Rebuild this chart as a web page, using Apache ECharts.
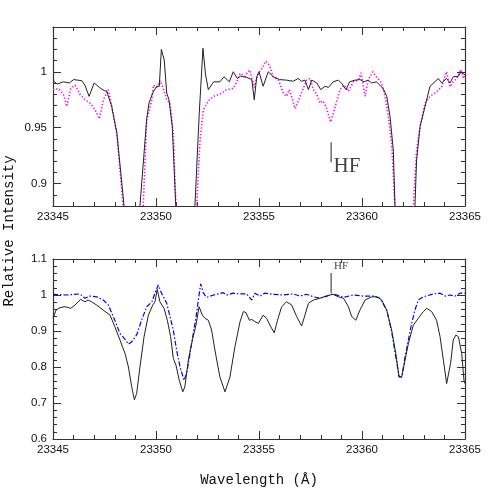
<!DOCTYPE html>
<html><head><meta charset="utf-8">
<script src="https://cdn.jsdelivr.net/npm/echarts@6/dist/echarts.min.js"></script>
<style>html,body{margin:0;padding:0;background:#fff}#c{width:491px;height:491px}</style>
</head><body><div id="c"></div>
<script>
// ---- Data ----
const xTicks = [23345, 23350, 23355, 23360, 23365];
const topYLabels = [0.9, 0.95, 1];
const bottomYLabels = [0.6, 0.7, 0.8, 0.9, 1, 1.1];

// Top panel: observed spectrum (black)
const topObsWave = [23345.0,23345.2,23345.5,23345.8,23346.0,23346.4,23346.55,23346.75,23347.0,23347.25,23347.5,23347.6,23347.85,23348.1,23348.45,23348.85,23349.22,23349.55,23349.66,23349.84,23350.03,23350.16,23350.26,23350.4,23350.52,23350.63,23350.79,23350.96,23351.4,23351.89,23352.1,23352.28,23352.4,23352.54,23352.8,23353.1,23353.3,23353.56,23353.75,23353.95,23354.1,23354.4,23354.65,23354.77,23354.89,23355.0,23355.2,23355.45,23355.7,23356.0,23356.34,23356.66,23356.9,23357.07,23357.23,23357.4,23357.56,23357.8,23358.0,23358.2,23358.37,23358.6,23358.85,23359.0,23359.22,23359.4,23359.66,23359.9,23360.1,23360.3,23360.46,23360.7,23360.87,23361.03,23361.2,23361.36,23361.52,23361.6,23362.1,23362.57,23362.65,23362.82,23363.06,23363.3,23363.54,23363.7,23363.87,23364.1,23364.27,23364.43,23364.68,23364.8,23365.0];
const topObsFlux = [0.992,0.989,0.991,0.990,0.993,0.992,0.988,0.978,0.990,0.986,0.983,0.983,0.969,0.945,0.880,0.75,0.880,0.958,0.972,0.981,0.987,0.987,1.020,1.0105,0.981,0.975,0.951,0.880,0.75,0.880,0.963,1.021,0.998,0.984,0.991,0.991,0.9955,0.991,1.000,0.994,0.996,0.995,0.993,0.975,0.9955,1.000,0.987,1.000,0.9955,0.993,0.9925,0.9915,0.994,0.9915,0.9925,0.984,0.9925,0.990,0.984,0.987,0.986,0.991,0.9925,0.990,0.984,0.991,0.9925,0.993,0.991,0.9925,0.990,0.991,0.988,0.985,0.978,0.960,0.930,0.880,0.75,0.880,0.921,0.951,0.969,0.987,0.991,0.994,0.990,0.994,0.990,0.9955,0.996,1.000,0.997];

// Top panel: comparison spectrum (magenta dotted)
const topCmpWave = [23345.0,23345.26,23345.5,23345.67,23345.86,23346.07,23346.3,23346.55,23346.8,23347.04,23347.25,23347.45,23347.69,23347.85,23348.1,23348.4,23348.9,23349.38,23349.55,23349.8,23349.87,23350.03,23350.2,23350.36,23350.52,23350.68,23350.84,23350.97,23351.45,23351.97,23352.14,23352.3,23352.54,23352.8,23353.1,23353.43,23353.75,23353.9,23354.08,23354.32,23354.45,23354.56,23354.77,23354.96,23355.2,23355.33,23355.5,23355.7,23355.95,23356.18,23356.34,23356.47,23356.58,23356.75,23356.99,23357.15,23357.31,23357.48,23357.64,23357.8,23357.96,23358.1,23358.25,23358.48,23358.7,23358.93,23359.13,23359.34,23359.58,23359.83,23359.95,23360.15,23360.3,23360.52,23360.7,23360.95,23361.12,23361.28,23361.44,23361.6,23362.05,23362.49,23362.65,23362.82,23363.06,23363.3,23363.62,23363.87,23364.1,23364.27,23364.43,23364.6,23364.8,23364.92,23365.0];
const topCmpFlux = [0.984,0.985,0.980,0.969,0.985,0.988,0.980,0.975,0.972,0.966,0.958,0.975,0.984,0.969,0.945,0.880,0.75,0.880,0.957,0.975,0.988,0.986,0.992,0.985,0.975,0.972,0.945,0.880,0.75,0.880,0.939,0.966,0.974,0.978,0.980,0.984,0.985,0.990,0.9985,0.996,1.000,1.0015,0.986,0.9985,1.0045,1.0095,1.006,0.995,0.9925,0.981,0.978,0.984,0.978,0.967,0.978,0.985,0.9925,0.994,0.984,0.980,0.972,0.974,0.969,0.955,0.969,0.984,0.988,0.9825,0.991,0.9925,0.999,0.978,0.9925,1.000,0.9955,0.990,0.978,0.960,0.936,0.880,0.75,0.880,0.930,0.951,0.972,0.978,0.982,0.9866,1.000,0.9866,0.991,0.994,1.002,0.994,0.998];

// Bottom panel: black spectrum
const botObsWave = [23345.0,23345.15,23345.34,23345.58,23345.86,23346.07,23346.34,23346.55,23346.7,23346.88,23347.12,23347.44,23347.77,23348.0,23348.25,23348.5,23348.66,23348.82,23348.95,23349.06,23349.22,23349.42,23349.63,23349.84,23349.95,23350.06,23350.19,23350.39,23350.55,23350.71,23350.84,23350.97,23351.13,23351.3,23351.4,23351.57,23351.78,23351.94,23352.09,23352.25,23352.38,23352.54,23352.7,23352.86,23353.1,23353.35,23353.59,23353.83,23354.08,23354.24,23354.37,23354.53,23354.65,23354.8,23354.97,23355.2,23355.37,23355.57,23355.74,23355.9,23356.1,23356.34,23356.59,23356.83,23357.07,23357.23,23357.4,23357.64,23357.96,23358.25,23358.58,23358.85,23359.1,23359.34,23359.5,23359.7,23359.9,23360.15,23360.47,23360.74,23360.96,23361.2,23361.44,23361.64,23361.8,23361.93,23362.09,23362.25,23362.49,23362.73,23362.98,23363.14,23363.38,23363.62,23363.79,23363.95,23364.11,23364.19,23364.3,23364.43,23364.56,23364.68,23364.84,23364.95,23365.0];
const botObsFlux = [0.935,0.958,0.965,0.9675,0.963,0.972,0.988,0.981,0.986,0.981,0.972,0.958,0.944,0.912,0.875,0.837,0.800,0.745,0.709,0.726,0.800,0.884,0.944,0.972,0.981,1.016,0.981,0.963,0.930,0.884,0.824,0.805,0.763,0.731,0.745,0.819,0.879,0.916,0.9675,0.944,0.935,0.930,0.9025,0.847,0.7725,0.731,0.7725,0.856,0.926,0.954,0.951,0.930,0.932,0.926,0.921,0.944,0.935,0.912,0.895,0.930,0.9675,0.981,0.972,0.940,0.914,0.944,0.977,0.986,0.991,0.997,1.002,0.995,0.991,0.9675,0.940,0.930,0.958,0.986,0.995,0.995,0.986,0.958,0.9025,0.8375,0.7725,0.7725,0.819,0.865,0.916,0.935,0.954,0.963,0.954,0.930,0.884,0.819,0.754,0.754,0.810,0.875,0.889,0.884,0.8375,0.763,0.754];

// Bottom panel: blue dash-dot spectrum
const botModWave = [23345.0,23345.65,23346.3,23346.55,23346.8,23347.12,23347.44,23347.69,23348.0,23348.25,23348.5,23348.66,23348.82,23349.06,23349.3,23349.55,23349.8,23349.95,23350.11,23350.27,23350.52,23350.68,23350.84,23351.0,23351.17,23351.36,23351.49,23351.65,23351.81,23351.97,23352.09,23352.17,23352.3,23352.46,23352.8,23353.27,23353.43,23353.75,23354.08,23354.4,23354.65,23354.8,23355.05,23355.28,23355.7,23356.18,23356.66,23357.0,23357.31,23357.64,23357.96,23358.3,23358.6,23359.1,23359.58,23360.07,23360.55,23360.87,23361.2,23361.44,23361.64,23361.8,23361.93,23362.09,23362.25,23362.41,23362.57,23362.73,23362.98,23363.46,23363.79,23364.04,23364.27,23364.52,23364.76,23365.0];
const botModFlux = [1.002,1.000,1.003,0.991,0.997,0.995,0.986,0.972,0.930,0.893,0.877,0.8635,0.870,0.889,0.930,0.9675,0.981,1.005,1.028,1.005,0.977,0.940,0.9025,0.847,0.800,0.763,0.782,0.8375,0.893,0.949,1.000,1.031,1.005,0.9935,1.000,1.0065,1.000,1.005,1.003,1.003,0.986,1.005,0.997,1.005,1.002,1.000,1.003,0.997,1.002,0.995,0.991,0.997,1.003,0.9935,1.000,0.997,0.997,0.991,0.958,0.898,0.828,0.7725,0.7725,0.828,0.875,0.921,0.958,0.986,0.995,1.003,1.005,0.997,1.000,0.997,1.005,1.005];

// HF marker positions (wavelength, flux ranges)
const hfWave = 23358.5;
const hfTopTick = [0.937, 0.919];
const hfBotTick = [1.061, 1.006];

// ---- Chart ----
const zip = (a, b) => a.map((v, i) => [v, b[i]]);
const AX = '#333';
const labelFont = { fontFamily: 'Liberation Sans, Arial, sans-serif', fontSize: 11.5, color: '#111' };
const grids = [
  { left: 53, top: 27, width: 412, height: 179 },
  { left: 53, top: 259, width: 412, height: 180 }
];
function xAx(grid, pos, showLabel) {
  return {
    type: 'value', gridIndex: grid, position: pos, min: 23345, max: 23365, interval: 5,
    axisLine: { show: true, onZero: false, lineStyle: { color: AX, width: 1.2 } },
    axisTick: { show: true, inside: true, length: 8, lineStyle: { color: AX } },
    minorTick: { show: true, splitNumber: 5, length: 4, lineStyle: { color: AX } },
    axisLabel: Object.assign({ show: showLabel, margin: 5, formatter: v => String(v) }, labelFont),
    splitLine: { show: false }
  };
}
function yTopMinor(pos) {
  return {
    type: 'value', gridIndex: 0, position: pos, min: 0.88, max: 1.04, interval: 0.01,
    axisLine: { show: true, onZero: false, lineStyle: { color: AX, width: 1.2 } },
    axisTick: { show: true, inside: true, length: 4, lineStyle: { color: AX } },
    axisLabel: { show: false }, splitLine: { show: false }
  };
}
function yTopMajor(pos, showLabel) {
  return {
    type: 'value', gridIndex: 0, position: pos, min: 0.88, max: 1.04, interval: 0.01,
    axisLine: { show: false },
    axisTick: { show: true, inside: true, length: 8, customValues: topYLabels, lineStyle: { color: AX } },
    axisLabel: Object.assign({ show: showLabel, margin: 6, customValues: topYLabels, formatter: v => String(+v.toFixed(2)) }, labelFont),
    splitLine: { show: false }
  };
}
function yBot(pos, showLabel) {
  return {
    type: 'value', gridIndex: 1, position: pos, min: 0.6, max: 1.1, interval: 0.1,
    axisLine: { show: true, onZero: false, lineStyle: { color: AX, width: 1.2 } },
    axisTick: { show: true, inside: true, length: 8, lineStyle: { color: AX } },
    minorTick: { show: true, splitNumber: 5, length: 4, lineStyle: { color: AX } },
    axisLabel: Object.assign({ show: showLabel, margin: 6, formatter: v => String(+v.toFixed(2)) }, labelFont),
    splitLine: { show: false }
  };
}

const chart = echarts.init(document.getElementById('c'), null, { renderer: 'canvas' });
chart.setOption({
  animation: false,
  backgroundColor: '#fff',
  grid: grids,
  xAxis: [xAx(0, 'bottom', true), xAx(0, 'top', false), xAx(1, 'bottom', true), xAx(1, 'top', false)],
  yAxis: [yTopMinor('left'), yTopMajor('left', true), yTopMinor('right'), yTopMajor('right', false), yBot('left', true), yBot('right', false)],
  series: [
    { type: 'line', xAxisIndex: 0, yAxisIndex: 0, data: zip(topCmpWave, topCmpFlux), symbol: 'none', clip: true,
      lineStyle: { color: '#ff00ff', width: 1.6, type: [1.3, 2], cap: 'butt' } },
    { type: 'line', xAxisIndex: 0, yAxisIndex: 0, data: zip(topObsWave, topObsFlux), symbol: 'none', clip: true,
      lineStyle: { color: '#222', width: 1 } },
    { type: 'line', xAxisIndex: 0, yAxisIndex: 0, data: [[hfWave, hfTopTick[0]], [hfWave, hfTopTick[1]]], symbol: 'none',
      lineStyle: { color: '#222', width: 1 } },
    { type: 'scatter', xAxisIndex: 0, yAxisIndex: 0, data: [[23359.27, 0.9155]], symbolSize: 0,
      label: { show: true, position: 'inside', formatter: 'HF', fontFamily: 'Liberation Serif, Times New Roman, serif', fontSize: 21, color: '#111' } },
    { type: 'line', xAxisIndex: 2, yAxisIndex: 4, data: zip(botModWave, botModFlux), symbol: 'none', clip: true,
      lineStyle: { color: '#0000ff', width: 1.2, type: [5, 2, 1.5, 2] } },
    { type: 'line', xAxisIndex: 2, yAxisIndex: 4, data: zip(botObsWave, botObsFlux), symbol: 'none', clip: true,
      lineStyle: { color: '#222', width: 1 } },
    { type: 'line', xAxisIndex: 2, yAxisIndex: 4, data: [[hfWave, hfBotTick[0]], [hfWave, hfBotTick[1]]], symbol: 'none', clip: false,
      lineStyle: { color: '#222', width: 1 } },
    { type: 'scatter', xAxisIndex: 2, yAxisIndex: 4, data: [[23358.98, 1.081]], symbolSize: 0,
      label: { show: true, position: 'inside', formatter: 'HF', fontFamily: 'Liberation Serif, Times New Roman, serif', fontSize: 11, color: '#111' } }
  ],
  graphic: [
    { type: 'text', x: 9, y: 231, rotation: Math.PI / 2,
      style: { text: 'Relative Intensity', font: '14px "Liberation Mono", monospace', fill: '#111', align: 'center', verticalAlign: 'middle' } },
    { type: 'text', x: 259, y: 480,
      style: { text: 'Wavelength (Å)', font: '14px "Liberation Mono", monospace', fill: '#111', align: 'center', verticalAlign: 'middle' } }
  ]
});
</script></body></html>
